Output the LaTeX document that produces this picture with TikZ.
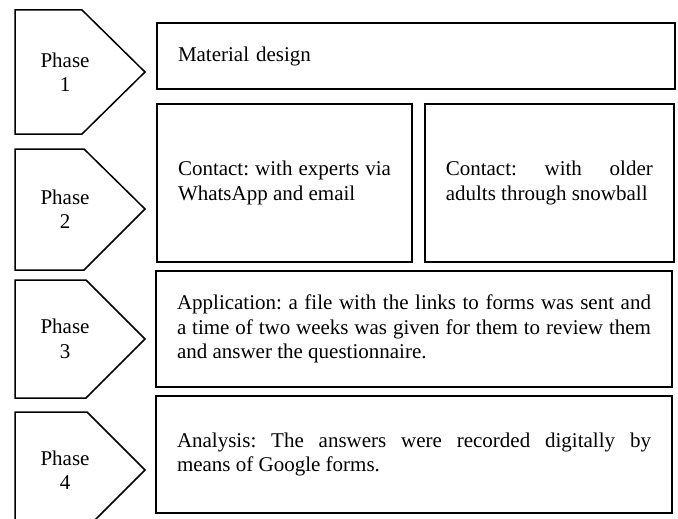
\documentclass[tikz,border=0pt]{standalone}
\usepackage{fontspec}
\setmainfont{Liberation Serif}
\usetikzlibrary{positioning}

\tikzset{
  phase/.style={line width=1.5pt,line join=miter},
  box/.style={draw,line width=1.8pt,align=justify,inner xsep=21pt,inner ysep=0pt},
}

\begin{document}
\begin{tikzpicture}[x=1pt,y=-1pt,every node/.style={font=\fontsize{21}{24.5}\selectfont\frenchspacing}]
  \clip (0,0) rectangle (678,519);
  % arrow-shaped phase markers on the left
  \draw[phase] (15,10) -- (82,10) -- (145,72) -- (82,134) -- (15,134) -- cycle;
  \draw[phase] (15,149) -- (84,149) -- (145,209) -- (84,270) -- (15,270) -- cycle;
  \draw[phase] (15,280) -- (86,280) -- (145,339) -- (86,398) -- (15,398) -- cycle;
  \draw[phase] (15,412) -- (87,412) -- (145,470) -- (87,528) -- (15,528) -- cycle;
  \node[align=center] (ph1) at (65,72) {Phase\\1};
  \node[align=center] (ph2) at (65,209) {Phase\\2};
  \node[align=center] (ph3) at (65,339) {Phase\\3};
  \node[align=center] (ph4) at (65,470) {Phase\\4};
  % activity boxes
  \node[box,text width=476pt,minimum height=66pt,align=left] (mat) at (416,56) {Material design};
  \node[box,text width=213pt,minimum height=158pt] (con1) at (284.5,183) {Contact: with experts via\linebreak WhatsApp and email};
  \node[box,text width=207pt,minimum height=158pt,right=11pt of con1] (con2) {Contact: with older\linebreak adults through snowball};
  \node[box,text width=474pt,minimum height=116pt] (app) at (414,329) {Application: a file with the links to forms was sent and\linebreak a time of two weeks was given for them to review them\linebreak and answer the questionnaire.};
  \node[box,text width=474pt,minimum height=117pt,below=7pt of app] (ana) {Analysis: The answers were recorded digitally by\linebreak means of Google forms.};
\end{tikzpicture}
\end{document}
